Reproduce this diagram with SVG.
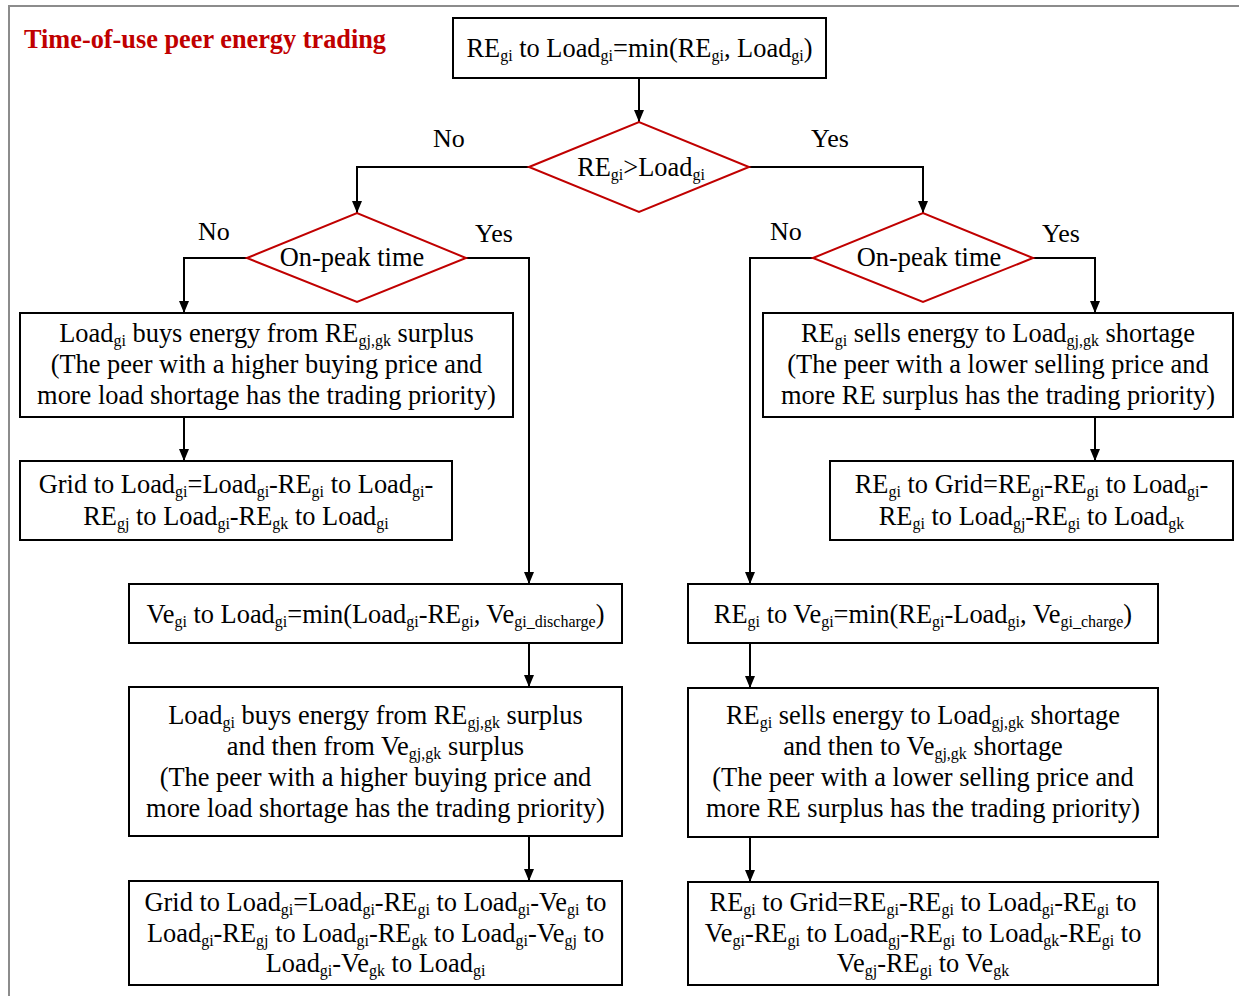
<svg xmlns="http://www.w3.org/2000/svg" width="1239" height="996" viewBox="0 0 1239 996">
<defs>
<style>
.t{font-family:"Liberation Serif","Times New Roman",serif;font-size:26.4px;fill:#000;text-anchor:middle}
.l{font-family:"Liberation Serif","Times New Roman",serif;font-size:26px;fill:#000}
.s{font-size:16px}
.box{fill:#fff;stroke:#000;stroke-width:2}
.dia{fill:#fff;stroke:#c00000;stroke-width:2}
.c{fill:none;stroke:#000;stroke-width:2}
.title{font-family:"Liberation Serif","Times New Roman",serif;font-size:26.3px;font-weight:bold;fill:#c00000}
</style>
<marker id="ah" viewBox="0 0 12 10" refX="12" refY="5" markerWidth="12" markerHeight="10" markerUnits="userSpaceOnUse" orient="auto">
<path d="M0,0 L12,5 L0,10 z" fill="#000"/>
</marker>
</defs>
<rect x="0" y="0" width="1239" height="996" fill="#fff"/>
<path d="M9,996 L9,6 L1239,6" fill="none" stroke="#8c8c8c" stroke-width="2"/>
<text class="title" x="24" y="48">Time-of-use peer energy trading</text>

<g id="connectors">
<path class="c" d="M639,78 L639,122" marker-end="url(#ah)"/>
<path class="c" d="M529,167 L357,167 L357,213" marker-end="url(#ah)"/>
<path class="c" d="M749,167 L923,167 L923,213" marker-end="url(#ah)"/>
<path class="c" d="M247,258 L184,258 L184,313" marker-end="url(#ah)"/>
<path class="c" d="M466,258 L529,258 L529,584" marker-end="url(#ah)"/>
<path class="c" d="M813,258 L750,258 L750,584" marker-end="url(#ah)"/>
<path class="c" d="M1033,258 L1095,258 L1095,313" marker-end="url(#ah)"/>
<path class="c" d="M184,417 L184,461" marker-end="url(#ah)"/>
<path class="c" d="M1095,417 L1095,461" marker-end="url(#ah)"/>
<path class="c" d="M529,643 L529,687" marker-end="url(#ah)"/>
<path class="c" d="M529,836 L529,881" marker-end="url(#ah)"/>
<path class="c" d="M750,643 L750,688" marker-end="url(#ah)"/>
<path class="c" d="M750,837 L750,882" marker-end="url(#ah)"/>
<text class="l" x="433" y="147">No</text>
<text class="l" x="811" y="147">Yes</text>
<text class="l" x="198" y="240">No</text>
<text class="l" x="475" y="242">Yes</text>
<text class="l" x="770" y="240">No</text>
<text class="l" x="1042" y="242">Yes</text>
</g>

<g id="start">
<rect class="box" x="453" y="18" width="373" height="60"/>
<text class="t" x="639.5" y="57">RE<tspan class="s" dy="4">gi</tspan><tspan dy="-4"> to Load</tspan><tspan class="s" dy="4">gi</tspan><tspan dy="-4">=min(RE</tspan><tspan class="s" dy="4">gi</tspan><tspan dy="-4">, Load</tspan><tspan class="s" dy="4">gi</tspan><tspan dy="-4">)</tspan></text>
</g>

<g id="dec-surplus">
<polygon class="dia" points="529,167 639,122 749,167 639,212"/>
<text class="t" x="641" y="176">RE<tspan class="s" dy="4">gi</tspan><tspan dy="-4">&gt;Load</tspan><tspan class="s" dy="4">gi</tspan></text>
</g>

<g id="dec-peak-left">
<polygon class="dia" points="247,258 357,213 466,258 357,302"/>
<text class="t" x="352" y="266">On-peak time</text>
</g>

<g id="dec-peak-right">
<polygon class="dia" points="813,258 923,213 1033,258 923,302"/>
<text class="t" x="929" y="266">On-peak time</text>
</g>

<g id="buy-offpeak">
<rect class="box" x="20" y="313" width="493" height="104"/>
<text class="t" x="266.5" y="342">Load<tspan class="s" dy="4">gi</tspan><tspan dy="-4"> buys energy from RE</tspan><tspan class="s" dy="4">gj,gk</tspan><tspan dy="-4"> surplus</tspan></text>
<text class="t" x="266.5" y="373">(The peer with a higher buying price and</text>
<text class="t" x="266.5" y="404">more load shortage has the trading priority)</text>
</g>

<g id="grid-offpeak">
<rect class="box" x="20" y="461" width="432" height="79"/>
<text class="t" x="236" y="493">Grid to Load<tspan class="s" dy="4">gi</tspan><tspan dy="-4">=Load</tspan><tspan class="s" dy="4">gi</tspan><tspan dy="-4">-RE</tspan><tspan class="s" dy="4">gi</tspan><tspan dy="-4"> to Load</tspan><tspan class="s" dy="4">gi</tspan><tspan dy="-4">-</tspan></text>
<text class="t" x="236" y="525">RE<tspan class="s" dy="4">gj</tspan><tspan dy="-4"> to Load</tspan><tspan class="s" dy="4">gi</tspan><tspan dy="-4">-RE</tspan><tspan class="s" dy="4">gk</tspan><tspan dy="-4"> to Load</tspan><tspan class="s" dy="4">gi</tspan></text>
</g>

<g id="sell-offpeak">
<rect class="box" x="763" y="313" width="470" height="104"/>
<text class="t" x="998" y="342">RE<tspan class="s" dy="4">gi</tspan><tspan dy="-4"> sells energy to Load</tspan><tspan class="s" dy="4">gj,gk</tspan><tspan dy="-4"> shortage</tspan></text>
<text class="t" x="998" y="373">(The peer with a lower selling price and</text>
<text class="t" x="998" y="404">more RE surplus has the trading priority)</text>
</g>

<g id="togrid-offpeak">
<rect class="box" x="830" y="461" width="403" height="79"/>
<text class="t" x="1031.5" y="493">RE<tspan class="s" dy="4">gi</tspan><tspan dy="-4"> to Grid=RE</tspan><tspan class="s" dy="4">gi</tspan><tspan dy="-4">-RE</tspan><tspan class="s" dy="4">gi</tspan><tspan dy="-4"> to Load</tspan><tspan class="s" dy="4">gi</tspan><tspan dy="-4">-</tspan></text>
<text class="t" x="1031.5" y="525">RE<tspan class="s" dy="4">gi</tspan><tspan dy="-4"> to Load</tspan><tspan class="s" dy="4">gj</tspan><tspan dy="-4">-RE</tspan><tspan class="s" dy="4">gi</tspan><tspan dy="-4"> to Load</tspan><tspan class="s" dy="4">gk</tspan></text>
</g>

<g id="ve-discharge">
<rect class="box" x="129" y="584" width="493" height="59"/>
<text class="t" x="375.5" y="623">Ve<tspan class="s" dy="4">gi</tspan><tspan dy="-4"> to Load</tspan><tspan class="s" dy="4">gi</tspan><tspan dy="-4">=min(Load</tspan><tspan class="s" dy="4">gi</tspan><tspan dy="-4">-RE</tspan><tspan class="s" dy="4">gi</tspan><tspan dy="-4">, Ve</tspan><tspan class="s" dy="4">gi_discharge</tspan><tspan dy="-4">)</tspan></text>
</g>

<g id="buy-onpeak">
<rect class="box" x="129" y="687" width="493" height="149"/>
<text class="t" x="375.5" y="724">Load<tspan class="s" dy="4">gi</tspan><tspan dy="-4"> buys energy from RE</tspan><tspan class="s" dy="4">gj,gk</tspan><tspan dy="-4"> surplus</tspan></text>
<text class="t" x="375.5" y="755">and then from Ve<tspan class="s" dy="4">gj,gk</tspan><tspan dy="-4"> surplus</tspan></text>
<text class="t" x="375.5" y="786">(The peer with a higher buying price and</text>
<text class="t" x="375.5" y="817">more load shortage has the trading priority)</text>
</g>

<g id="grid-onpeak">
<rect class="box" x="129" y="881" width="493" height="104"/>
<text class="t" x="375.5" y="911">Grid to Load<tspan class="s" dy="4">gi</tspan><tspan dy="-4">=Load</tspan><tspan class="s" dy="4">gi</tspan><tspan dy="-4">-RE</tspan><tspan class="s" dy="4">gi</tspan><tspan dy="-4"> to Load</tspan><tspan class="s" dy="4">gi</tspan><tspan dy="-4">-Ve</tspan><tspan class="s" dy="4">gi</tspan><tspan dy="-4"> to</tspan></text>
<text class="t" x="375.5" y="942">Load<tspan class="s" dy="4">gi</tspan><tspan dy="-4">-RE</tspan><tspan class="s" dy="4">gj</tspan><tspan dy="-4"> to Load</tspan><tspan class="s" dy="4">gi</tspan><tspan dy="-4">-RE</tspan><tspan class="s" dy="4">gk</tspan><tspan dy="-4"> to Load</tspan><tspan class="s" dy="4">gi</tspan><tspan dy="-4">-Ve</tspan><tspan class="s" dy="4">gj</tspan><tspan dy="-4"> to</tspan></text>
<text class="t" x="375.5" y="972">Load<tspan class="s" dy="4">gi</tspan><tspan dy="-4">-Ve</tspan><tspan class="s" dy="4">gk</tspan><tspan dy="-4"> to Load</tspan><tspan class="s" dy="4">gi</tspan></text>
</g>

<g id="ve-charge">
<rect class="box" x="688" y="584" width="470" height="59"/>
<text class="t" x="923" y="623">RE<tspan class="s" dy="4">gi</tspan><tspan dy="-4"> to Ve</tspan><tspan class="s" dy="4">gi</tspan><tspan dy="-4">=min(RE</tspan><tspan class="s" dy="4">gi</tspan><tspan dy="-4">-Load</tspan><tspan class="s" dy="4">gi</tspan><tspan dy="-4">, Ve</tspan><tspan class="s" dy="4">gi_charge</tspan><tspan dy="-4">)</tspan></text>
</g>

<g id="sell-onpeak">
<rect class="box" x="688" y="688" width="470" height="149"/>
<text class="t" x="923" y="724">RE<tspan class="s" dy="4">gi</tspan><tspan dy="-4"> sells energy to Load</tspan><tspan class="s" dy="4">gj,gk</tspan><tspan dy="-4"> shortage</tspan></text>
<text class="t" x="923" y="755">and then to Ve<tspan class="s" dy="4">gj,gk</tspan><tspan dy="-4"> shortage</tspan></text>
<text class="t" x="923" y="786">(The peer with a lower selling price and</text>
<text class="t" x="923" y="817">more RE surplus has the trading priority)</text>
</g>

<g id="togrid-onpeak">
<rect class="box" x="688" y="882" width="470" height="103"/>
<text class="t" x="923" y="911">RE<tspan class="s" dy="4">gi</tspan><tspan dy="-4"> to Grid=RE</tspan><tspan class="s" dy="4">gi</tspan><tspan dy="-4">-RE</tspan><tspan class="s" dy="4">gi</tspan><tspan dy="-4"> to Load</tspan><tspan class="s" dy="4">gi</tspan><tspan dy="-4">-RE</tspan><tspan class="s" dy="4">gi</tspan><tspan dy="-4"> to</tspan></text>
<text class="t" x="923" y="942">Ve<tspan class="s" dy="4">gi</tspan><tspan dy="-4">-RE</tspan><tspan class="s" dy="4">gi</tspan><tspan dy="-4"> to Load</tspan><tspan class="s" dy="4">gj</tspan><tspan dy="-4">-RE</tspan><tspan class="s" dy="4">gi</tspan><tspan dy="-4"> to Load</tspan><tspan class="s" dy="4">gk</tspan><tspan dy="-4">-RE</tspan><tspan class="s" dy="4">gi</tspan><tspan dy="-4"> to</tspan></text>
<text class="t" x="923" y="972">Ve<tspan class="s" dy="4">gj</tspan><tspan dy="-4">-RE</tspan><tspan class="s" dy="4">gi</tspan><tspan dy="-4"> to Ve</tspan><tspan class="s" dy="4">gk</tspan></text>
</g>
</svg>
